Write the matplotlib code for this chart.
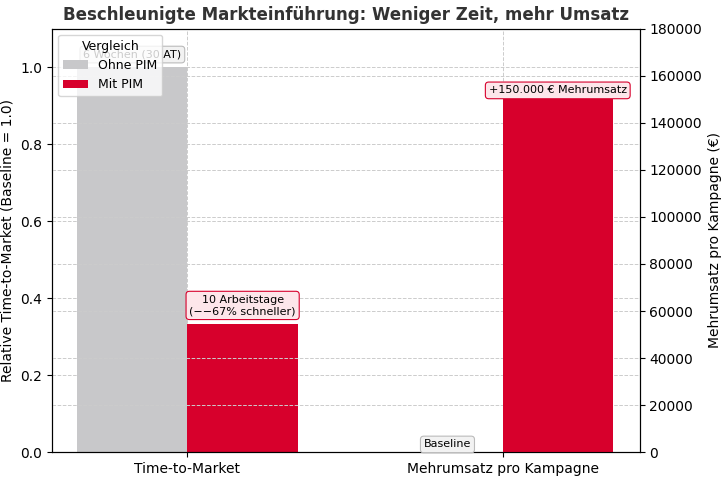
import matplotlib
matplotlib.use("Agg")
import matplotlib.pyplot as plt
import numpy as np

categories = ["Time-to-Market", "Mehrumsatz pro Kampagne"]
ttm_values = [1.0, 1/3]          # Ohne PIM, Mit PIM (relative)
revenue_values = [0, 150000]     # Ohne PIM, Mit PIM (EUR)
series = ["Ohne PIM", "Mit PIM"]
colors = ["#c8c8ca", "#d7002c"]

w = 0.35
fig, ax = plt.subplots(figsize=(7.22, 4.78), dpi=100)
ax2 = ax.twinx()

h1 = ax.bar(0 - w/2, ttm_values[0], w, color=colors[0], label=series[0])
h2 = ax.bar(0 + w/2, ttm_values[1], w, color=colors[1], label=series[1])
ax2.bar(1 - w/2, revenue_values[0], w, color=colors[0])
ax2.bar(1 + w/2, revenue_values[1], w, color=colors[1])

ax.set_xlim(-0.43, 1.435)
ax.set_ylim(0, 1.1)
ax2.set_ylim(0, 180000)
ax.set_xticks([0, 1])
ax.set_xticklabels(categories, fontsize=10)
ax.set_ylabel("Relative Time-to-Market (Baseline = 1.0)", fontsize=10)
ax2.set_ylabel("Mehrumsatz pro Kampagne (€)", fontsize=10)
ax.set_title("Beschleunigte Markteinführung: Weniger Zeit, mehr Umsatz", fontsize=12, fontweight="bold", color="#333333")

for a in (ax, ax2):
    a.grid(True, linestyle="--", color="#cccccc", linewidth=0.7)
    a.set_axisbelow(True)
ax2.grid(axis="x", visible=False)

box_grey = dict(boxstyle="round,pad=0.3", fc="#f2f2f2", ec="#bbbbbb", lw=0.8)
box_red = dict(boxstyle="round,pad=0.3", fc="#fde6ea", ec="#d7002c", lw=0.8)
ax2.text(0 - w/2, ttm_values[0] + 0.025, "6 Wochen (30 AT)", ha="center", fontsize=8,
         bbox=box_grey, transform=ax.transData, zorder=5)
ax2.text(0 + w/2, ttm_values[1] + 0.025, "10 Arbeitstage\n(−−67% schneller)", ha="center", fontsize=8,
         bbox=box_red, transform=ax.transData, zorder=5)
ax2.text(1 - w/2, revenue_values[0] + 2000, "Baseline", ha="center", fontsize=8, bbox=box_grey, zorder=5)
ax2.text(1 + w/2, revenue_values[1] + 2500, "+150.000 € Mehrumsatz", ha="center", fontsize=8, bbox=box_red, zorder=5)

leg = ax2.legend(handles=[h1, h2], title="Vergleich", loc="upper left", fontsize=9, title_fontsize=9)
leg.set_zorder(10)

fig.subplots_adjust(left=0.072, right=0.886, top=0.94, bottom=0.054)
fig.savefig("out.png")
